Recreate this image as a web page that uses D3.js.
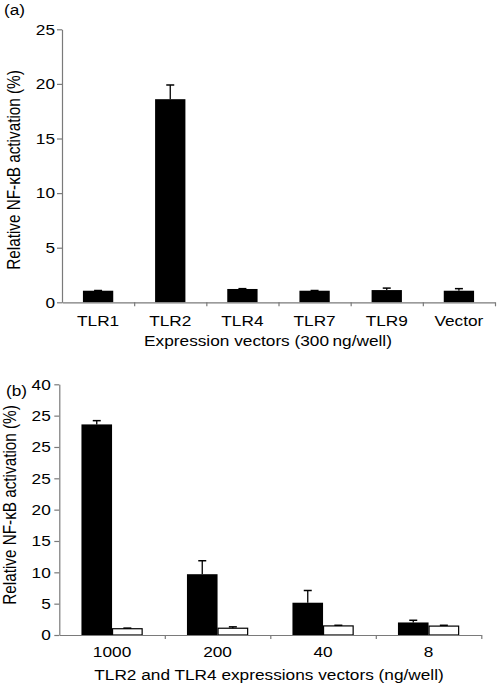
<!DOCTYPE html>
<html>
<head>
<meta charset="utf-8">
<script src="https://cdn.jsdelivr.net/npm/d3@7"></script>
<style>
  html, body { margin: 0; padding: 0; background: #fff; }
  svg { display: block; font-family: "Liberation Sans", Arial, Helvetica, sans-serif; }
</style>
</head>
<body>
<svg id="chart" width="497" height="684"></svg>
<script>
// ---- Panel (a) data ----
const catsA = ["TLR1", "TLR2", "TLR4", "TLR7", "TLR9", "Vector"];
const valsA = [1.06, 18.6, 1.22, 1.06, 1.12, 1.06];
const errTopA = [1.08, 19.9, 1.25, 1.08, 1.3, 1.25];
const yTicksA = [0, 5, 10, 15, 20, 25];

// ---- Panel (b) data ----
const catsB = ["1000", "200", "40", "8"];
const seriesB = ["TLR2", "TLR4"];
const tlr2B = [33.6, 9.7, 5.15, 2.0];
const tlr2ErrTopB = [34.2, 11.85, 7.1, 2.35];
const tlr4B = [1.0, 1.08, 1.45, 1.42];
const tlr4ErrTopB = [1.1, 1.3, 1.55, 1.55];
const yTickValsB = [0, 5, 10, 15, 20, 25, 30, 35, 40];
const yTickLabelsB = ["0", "5", "10", "15", "20", "25", "25", "25", "40"];

const svg = d3.select("#chart");
const axisColor = "#7a7a7a";
const fs = 15;      // font size
const sx = 1.15;    // horizontal stretch of the lettering in the reference
const fsY = 15.3;   // rotated axis title

function hText(g, x, y, str, anchor) {
  return g.append("text")
    .attr("transform", `translate(${x},${y}) scale(${sx},1)`)
    .attr("text-anchor", anchor || "middle").attr("font-size", fs).text(str);
}

function styleAxis(g, pad) {
  g.select(".domain").attr("stroke", axisColor).attr("stroke-width", 1.2);
  g.selectAll(".tick line").attr("stroke", axisColor).attr("stroke-width", 1.2);
  g.selectAll(".tick text").attr("fill", "#000").attr("font-size", fs)
    .attr("font-family", "Liberation Sans, Arial, sans-serif")
    .attr("x", -pad / sx)
    .attr("transform", `scale(${sx},1)`);
}

function errorBars(g, xs, bases, tops, capW) {
  const sel = g.selectAll(null).data(xs.map((x, i) => ({ x, b: bases[i], t: tops[i] }))).enter();
  sel.append("line").attr("x1", d => d.x).attr("x2", d => d.x)
    .attr("y1", d => d.b).attr("y2", d => d.t)
    .attr("stroke", "#000").attr("stroke-width", 1.3);
  sel.append("line").attr("x1", d => d.x - capW / 2).attr("x2", d => d.x + capW / 2)
    .attr("y1", d => d.t).attr("y2", d => d.t)
    .attr("stroke", "#000").attr("stroke-width", 1.5);
}

// ================= Panel (a) =================
{
  const left = 62, right = 495, top = 29.3, bottom = 302.3;
  const y = d3.scaleLinear().domain([0, 25]).range([bottom, top]);
  const x = d3.scaleBand().domain(catsA).range([left, right]).paddingInner(0.58).paddingOuter(0.29);
  const xi = d3.scaleLinear().domain([0, catsA.length]).range([left, right]);
  const g = svg.append("g");

  g.selectAll("rect.bar").data(catsA).enter().append("rect")
    .attr("x", d => x(d)).attr("width", x.bandwidth())
    .attr("y", (d, i) => y(valsA[i])).attr("height", (d, i) => y(0) - y(valsA[i]))
    .attr("fill", "#000");

  errorBars(g, catsA.map(c => x(c) + x.bandwidth() / 2), valsA.map(v => y(v)), errTopA.map(v => y(v)), 8);

  const ya = g.append("g").attr("transform", `translate(${left},0)`)
    .call(d3.axisLeft(y).tickValues(yTicksA).tickSize(5).tickSizeOuter(0));
  styleAxis(ya, 7);

  const xa = g.append("g").attr("transform", `translate(0,${bottom})`)
    .call(d3.axisBottom(xi).tickValues(d3.range(1, catsA.length + 1)).tickSize(4).tickSizeOuter(0).tickFormat(""));
  xa.select(".domain").attr("stroke", axisColor).attr("stroke-width", 1.2);
  xa.selectAll(".tick line").attr("stroke", axisColor).attr("stroke-width", 1.2);

  catsA.forEach(c => hText(g, x(c) + x.bandwidth() / 2, 326, c));
  hText(g, 268, 345.5, "Expression vectors (300\u2009ng/well)");

  g.append("text").attr("transform", `translate(19.5,170) scale(${sx},1) rotate(-90)`)
    .attr("text-anchor", "middle").attr("font-size", fsY).text("Relative NF-\u03BAB activation (%)");

  hText(g, 4, 15, "(a)", "start");
}

// ================= Panel (b) =================
{
  const left = 59.3, right = 481.3, top = 384.3, bottom = 635;
  const y = d3.scaleLinear().domain([0, 40]).range([bottom, top]);
  const x0 = d3.scaleBand().domain(catsB).range([left, right]).paddingInner(0.42).paddingOuter(0.21);
  const x1 = d3.scaleBand().domain(seriesB).range([0, x0.bandwidth()]).padding(0);
  const xi = d3.scaleLinear().domain([0, catsB.length]).range([left, right]);
  const g = svg.append("g");

  const vals = { TLR2: tlr2B, TLR4: tlr4B };
  const errs = { TLR2: tlr2ErrTopB, TLR4: tlr4ErrTopB };

  seriesB.forEach(s => {
    const isW = s === "TLR4";
    g.selectAll(null).data(catsB).enter().append("rect")
      .attr("x", d => x0(d) + x1(s) + (isW ? 0.5 : 0))
      .attr("width", x1.bandwidth() - (isW ? 1 : 0))
      .attr("y", (d, i) => y(vals[s][i]))
      .attr("height", (d, i) => y(0) - y(vals[s][i]))
      .attr("fill", isW ? "#fff" : "#000")
      .attr("stroke", "#000").attr("stroke-width", isW ? 1.2 : 0);
  });

  seriesB.forEach(s => {
    errorBars(g, catsB.map(c => x0(c) + x1(s) + x1.bandwidth() / 2),
      vals[s].map(v => y(v)), errs[s].map(v => y(v)), 8);
  });

  const ya = g.append("g").attr("transform", `translate(${left},0)`)
    .call(d3.axisLeft(y).tickValues(yTickValsB).tickSize(5).tickSizeOuter(0)
      .tickFormat((d, i) => yTickLabelsB[i]));
  styleAxis(ya, 8.5);

  const xa = g.append("g").attr("transform", `translate(0,${bottom})`)
    .call(d3.axisBottom(xi).tickValues(d3.range(1, catsB.length + 1)).tickSize(4).tickSizeOuter(0).tickFormat(""));
  xa.select(".domain").attr("stroke", axisColor).attr("stroke-width", 1.2);
  xa.selectAll(".tick line").attr("stroke", axisColor).attr("stroke-width", 1.2);

  catsB.forEach(c => hText(g, x0(c) + x0.bandwidth() / 2, 656.5, c));
  hText(g, 269, 680, "TLR2 and TLR4 expressions vectors (ng/well)");

  g.append("text").attr("transform", `translate(15.5,505) scale(${sx},1) rotate(-90)`)
    .attr("text-anchor", "middle").attr("font-size", fsY).text("Relative NF-\u03BAB activation (%)");

  hText(g, 6, 396, "(b)", "start");
}
</script>
</body>
</html>
